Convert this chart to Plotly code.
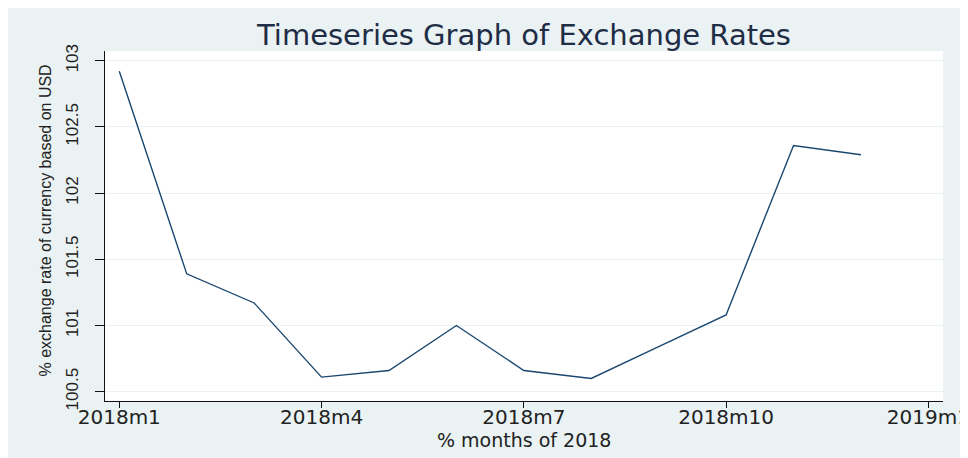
import plotly.graph_objects as go

months = ["2018m1", "2018m2", "2018m3", "2018m4", "2018m5", "2018m6",
          "2018m7", "2018m8", "2018m9", "2018m10", "2018m11", "2018m12"]
rates = [102.92, 101.39, 101.17, 100.61, 100.66, 101.00,
         100.66, 100.60, 100.84, 101.08, 102.36, 102.29]
x_tick_labels = ["2018m1", "2018m4", "2018m7", "2018m10", "2019m1"]
x_tick_pos = [0, 3, 6, 9, 12]
y_tick_vals = [100.5, 101, 101.5, 102, 102.5, 103]
y_tick_text = ["100.5", "101", "101.5", "102", "102.5", "103"]

# figure is placed by the page at an 8px offset (body margin)
W, H = 960, 450
L, R, T, B = 97, 25, 43, 57
pw = W - L - R
ph = H - T - B

BG = "#EAF2F3"
xpos = list(range(len(months)))

fig = go.Figure()
fig.add_trace(go.Scatter(
    x=xpos, y=rates, mode="lines",
    line=dict(color="#1a476f", width=1.4),
    text=months, hoverinfo="text+y", showlegend=False,
))

fig.update_layout(
    width=W, height=H, autosize=False,
    margin=dict(l=L, r=R, t=T, b=B, pad=0, autoexpand=False),
    paper_bgcolor=BG,
    plot_bgcolor="white",
    title=dict(text="Timeseries Graph of Exchange Rates",
               x=(516 / W), xanchor="center", xref="container",
               y=1 - 27 / H, yanchor="middle", yref="container",
               font=dict(family="DejaVu Sans", size=29, color="#1e2d45")),
    xaxis=dict(
        range=[-0.212, 12.217], tickvals=x_tick_pos, ticktext=x_tick_labels,
        automargin=False,
        showgrid=False, zeroline=False,
        showline=True, linecolor="#111", linewidth=1.3,
        ticks="outside", ticklen=6, tickcolor="#111", tickwidth=1.3,
        ticklabeloverflow="allow", ticklabelstandoff=-8,
        tickfont=dict(family="DejaVu Sans", size=20, color="#222"),
    ),
    yaxis=dict(
        range=[100.4295, 103.0735], tickvals=y_tick_vals, ticktext=y_tick_text,
        automargin=False,
        tickangle=-90,
        showgrid=True, gridcolor=BG, gridwidth=1.3, zeroline=False,
        showline=True, linecolor="#111", linewidth=1.3,
        ticks="outside", ticklen=9, tickcolor="#111", tickwidth=1.3,
        ticklabelstandoff=10,
        tickfont=dict(family="Liberation Sans", size=17, color="#222"),
    ),
    annotations=[
        dict(text="% exchange rate of currency based on USD", textangle=-90,
             xref="paper", yref="paper",
             x=(37 - L) / pw, y=1 - (212.5 - T) / ph,
             xanchor="center", yanchor="middle", showarrow=False,
             font=dict(family="Liberation Sans", size=16, color="#222")),
        dict(text="% months of 2018",
             xref="paper", yref="paper",
             x=(516 - L) / pw, y=1 - (432 - T) / ph,
             xanchor="center", yanchor="middle", showarrow=False,
             font=dict(family="DejaVu Sans", size=19, color="#222")),
    ],
)

fig.write_html("out.html")
